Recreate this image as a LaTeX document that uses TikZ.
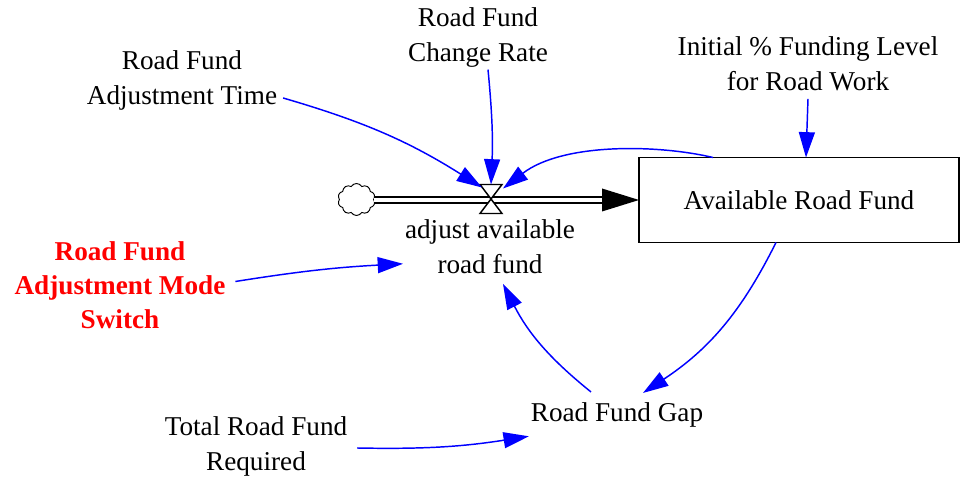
\documentclass[tikz,border=0pt]{standalone}
\usepackage{fontspec}
\setmainfont{Liberation Serif}
\usetikzlibrary{arrows.meta,shapes.symbols,calc}

\definecolor{linkblue}{RGB}{0,0,255}
\definecolor{switchred}{RGB}{255,0,0}

\begin{document}
\begin{tikzpicture}[x=0.75pt,y=0.75pt,
  every node/.style={inner sep=0pt, outer sep=0pt},
  lbl/.style={align=center, font=\fontsize{20.4}{26.25}\selectfont},
  redlbl/.style={lbl, font=\fontsize{20.4}{25.5}\selectfont\bfseries, text=switchred},
  stockbox/.style={draw=black, line width=1.2pt, minimum width=240pt,
    minimum height=63.75pt, font=\fontsize{20.4}{26.25}\selectfont},
  link/.style={draw=linkblue, line width=1.1pt,
    -{Triangle[length=19pt,width=12pt]}, linkblue},
  pipe/.style={draw=black, double=white, line width=1.6pt, double distance=3pt},
  valveline/.style={draw=black, line width=1.1pt, fill=white},
  source/.style={cloud, cloud puffs=10, cloud puff arc=120, draw=black,
    line width=0.7pt, minimum width=28pt, minimum height=24pt}
]
\useasboundingbox (0,0) rectangle (961,477);

% stock, flow and source
\node[stockbox] (stock) at (799,277) {Available Road Fund};
\node[source] (src) at (356.5,277.5) {};
\node[minimum width=16.5pt, minimum height=21.75pt] (valve) at (491,278) {};
\node[lbl] (flowlbl) at (490,230.2) {adjust available\\road fund};

% auxiliaries
\node[lbl] (rate) at (478,439.3) {Road Fund\\Change Rate};
\node[lbl] (adjtime) at (182,397) {Road Fund\\Adjustment Time};
\node[lbl] (init) at (808,413.2) {Initial \% Funding Level\\for Road Work};
\node[redlbl] (switch) at (120,191.5) {Road Fund\\Adjustment Mode\\Switch};
\node[lbl] (gap) at (617,61.7) {Road Fund Gap};
\node[lbl] (total) at (256,31) {Total Road Fund\\Required};

% flow pipe into the stock
\draw[pipe] (src.east |- stock.west) -- ($(stock.west)+(-30,0)$);
\fill[black] ($(stock.west)+(-37,11.5)$) -- (stock.west) -- ($(stock.west)+(-37,-11.5)$) -- cycle;
\draw[valveline] (valve.north west) -- (valve.north east)
  -- (valve.south west) -- (valve.south east) -- cycle;

% information links
\draw[link] ($(adjtime.east)+(6,-18)$) to[bend left=8] ($(valve.north west)+(2,-3)$);
\draw[link] ($(rate.south)+(10,-2)$) to[bend left=4] (valve.north);
\draw[link] ($(stock.north west)+(74,0)$) .. controls +(-55,13) and +(60,46) .. ($(valve.north east)+(1,-4)$);
\draw[link] ($(init.south)+(0,-8)$) -- ($(init.south |- stock.north)+(-2,0)$);
\draw[link] ($(switch.east)+(10,4)$) to[bend left=3] ($(flowlbl.west)+(-2,-17)$);
\draw[link] ($(stock.south west)+(137,0)$) to[bend left=15] ($(gap.north)+(26,10)$);
\draw[link] ($(gap.north)+(-26,11)$) to[bend left=12] ($(flowlbl.south)+(13,-10)$);
\draw[link] ($(total.east)+(10,-2)$) to[bend right=5] ($(gap.west)+(-2,-21)$);
\end{tikzpicture}
\end{document}
